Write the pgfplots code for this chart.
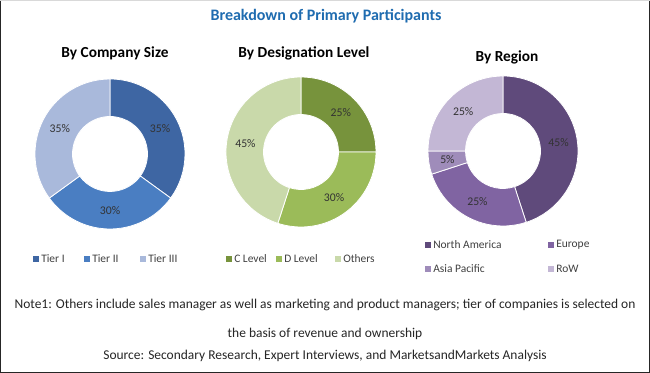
\documentclass[border=0pt]{standalone}
\usepackage{pgfplots}
\pgfplotsset{compat=1.18}
\usepackage{pgfplotstable}
\usepackage{fontspec}
\setmainfont{Carlito}
\definecolor{titleblue}{HTML}{1F6CB0}
\definecolor{labelgray}{HTML}{333333}
\definecolor{legendgray}{HTML}{404040}
\definecolor{notegray}{HTML}{262626}
% company size
\definecolor{csize0}{HTML}{3E66A3}
\definecolor{csize1}{HTML}{4A7EC2}
\definecolor{csize2}{HTML}{A9B9DB}
% designation
\definecolor{cdes0}{HTML}{77933C}
\definecolor{cdes1}{HTML}{9BBB59}
\definecolor{cdes2}{HTML}{C9D9AA}
% region
\definecolor{creg0}{HTML}{5F4A7B}
\definecolor{creg1}{HTML}{8064A2}
\definecolor{creg2}{HTML}{9F8CBA}
\definecolor{creg3}{HTML}{C3B7D5}

\pgfplotstableread{
label value
{Tier I} 35
{Tier II} 30
{Tier III} 35
}\tsize
\pgfplotstableread{
label value
{C Level} 25
{D Level} 30
{Others} 45
}\tdes
\pgfplotstableread{
label value
{North America} 45
{Europe} 25
{Asia Pacific} 5
{RoW} 25
}\treg

\newcommand{\donutslices}[2]{%
  \pgfplotstablegetrowsof{#1}%
  \pgfmathtruncatemacro\nlast{\pgfplotsretval-1}%
  \def\cum{0}%
  \pgfplotsforeachungrouped \k in {0,...,\nlast}{%
    \pgfplotstablegetelem{\k}{value}\of{#1}%
    \let\vv\pgfplotsretval
    \pgfmathsetmacro\aS{90-3.6*\cum}%
    \pgfmathsetmacro\aE{90-3.6*(\cum+\vv)}%
    \pgfmathsetmacro\aM{0.5*(\aS+\aE)}%
    \pgfmathsetmacro\xo{cos(\aS)}\pgfmathsetmacro\yo{sin(\aS)}%
    \pgfmathsetmacro\xin{0.5*cos(\aE)}\pgfmathsetmacro\yin{0.5*sin(\aE)}%
    \pgfmathsetmacro\xm{0.75*cos(\aM)}\pgfmathsetmacro\ym{0.75*sin(\aM)}%
    \edef\tmp{%
      \noexpand\fill[#2\k, draw=white, line width=0.6pt] (axis cs:\xo,\yo) arc[start angle=\aS, end angle=\aE, radius=1] -- (axis cs:\xin,\yin) arc[start angle=\aE, end angle=\aS, radius=0.5] -- cycle;
      \noexpand\node[font=\noexpand\fontsize{8.8}{10}\noexpand\selectfont, text=labelgray] at (axis cs:\xm,\ym) {\vv\noexpand\%};}%
    \tmp
    \pgfmathsetmacro\cum{\cum+\vv}%
  }%
}

\newcommand{\legitem}[4]{% x, y(flipped), color, text
  \fill[#3] (#1-3,#2-3) rectangle (#1+3,#2+3);
  \node[anchor=west, inner sep=0pt, text=legendgray, font=\fontsize{8.6}{10}\selectfont] at (#1+5,#2) {#4};
}

\begin{document}
\begin{tikzpicture}[x=0.75pt,y=0.75pt]
\useasboundingbox (0,0) rectangle (650,373);
\fill[white] (0,0) rectangle (650,373);
\draw[line width=0.75pt, black!85] (0.5,0) -- (0.5,373);
\draw[line width=0.75pt, black!85] (649.5,0) -- (649.5,373);
\draw[line width=0.75pt, black!85] (0,0.5) -- (650,0.5);
\draw[line width=0.5pt, black!15] (0,372.5) -- (650,372.5);

\node[text=titleblue, font=\fontsize{12}{14}\selectfont\bfseries] at (326,357) {Breakdown of Primary Participants};

\node[font=\fontsize{11.5}{13}\selectfont\bfseries] at (115,320) {By Company Size};
\node[font=\fontsize{11.5}{13}\selectfont\bfseries] at (304,320) {By Designation Level};
\node[font=\fontsize{11.5}{13}\selectfont\bfseries] at (507,316) {By Region};

\begin{axis}[at={(82.5pt,164.25pt)}, anchor=center, width=112.5pt, height=112.5pt, scale only axis, hide axis, xmin=-1, xmax=1, ymin=-1, ymax=1, clip=false]
\donutslices{\tsize}{csize}
\end{axis}
\begin{axis}[at={(225.75pt,165.75pt)}, anchor=center, width=112.5pt, height=112.5pt, scale only axis, hide axis, xmin=-1, xmax=1, ymin=-1, ymax=1, clip=false]
\donutslices{\tdes}{cdes}
\end{axis}
\begin{axis}[at={(377.25pt,166.5pt)}, anchor=center, width=112.5pt, height=112.5pt, scale only axis, hide axis, xmin=-1, xmax=1, ymin=-1, ymax=1, clip=false]
\donutslices{\treg}{creg}
\end{axis}

\legitem{36}{114}{csize0}{Tier I}
\legitem{87}{114}{csize1}{Tier II}
\legitem{143}{114}{csize2}{Tier III}

\legitem{229}{114}{cdes0}{C Level}
\legitem{279}{114}{cdes1}{D Level}
\legitem{338}{114}{cdes2}{Others}

\legitem{428}{128}{creg0}{North America}
\legitem{551}{128}{creg1}{Europe}
\legitem{428}{104}{creg2}{Asia Pacific}
\legitem{551}{104}{creg3}{RoW}

\node[text=notegray, font=\fontsize{10.1}{11}\selectfont] at (325,68) {Note1: Others include sales manager as well as marketing and product managers; tier of companies is selected on};
\node[text=notegray, font=\fontsize{10.1}{11}\selectfont] at (325,39) {the basis of revenue and ownership};
\node[text=notegray, font=\fontsize{10.1}{11}\selectfont] at (325,17) {Source: Secondary Research, Expert Interviews, and MarketsandMarkets Analysis};
\end{tikzpicture}
\end{document}
